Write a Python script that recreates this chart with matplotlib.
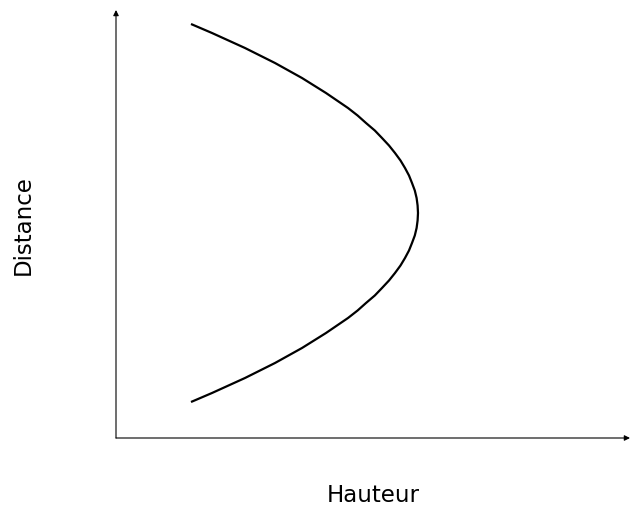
import matplotlib
matplotlib.use('Agg')
import matplotlib.pyplot as plt

# points (arbitrary units, origin at the axes corner)
distance = [36, 45, 60, 75, 90, 105, 120, 127.5, 135, 142.5, 150, 157.5, 165,
            172.5, 180, 187.5, 195, 202.5, 210, 217.5, 225,
            232.5, 240, 247.5, 255, 262.5, 270, 277.5, 285, 292.5, 300,
            307.5, 315, 322.5, 330, 345, 360, 375, 390, 405, 414]
hauteur = [75, 96, 129, 159, 186, 210, 232, 241.6, 250, 258.8, 266, 273, 279,
           284.5, 289, 293, 296, 298.8, 300.6, 301.6, 302,
           301.6, 300.6, 298.8, 296, 293, 289, 284.5, 279, 273, 266,
           258.8, 250, 241.6, 232, 210, 186, 159, 129, 96, 75]

x_label = 'Hauteur'
y_label = 'Distance'

fig = plt.figure(figsize=(6.3, 5.08), dpi=100)
ax = fig.add_axes([116 / 630, 70 / 508, 514 / 630, 428 / 508])
ax.set_xlim(0, 514)
ax.set_ylim(0, 428)
ax.axis('off')

# curve
ax.plot(hauteur, distance, color='black', lw=1.6, solid_capstyle='butt',
        solid_joinstyle='round')

# axes with arrow heads
arrow = dict(arrowstyle='-|>', color='black', lw=0.8, mutation_scale=8,
             shrinkA=0, shrinkB=0)
ax.annotate('', xy=(514, 0), xytext=(0, 0), arrowprops=arrow, annotation_clip=False)
ax.annotate('', xy=(0, 428), xytext=(0, 0), arrowprops=arrow, annotation_clip=False)

fig.text(373 / 630, 13 / 508, x_label, ha='center', va='center', fontsize=16.5)
fig.text(23 / 630, 1 - 225 / 508, y_label, ha='center', va='center', fontsize=16.5,
         rotation=90)

fig.savefig('out.png', dpi=100)
